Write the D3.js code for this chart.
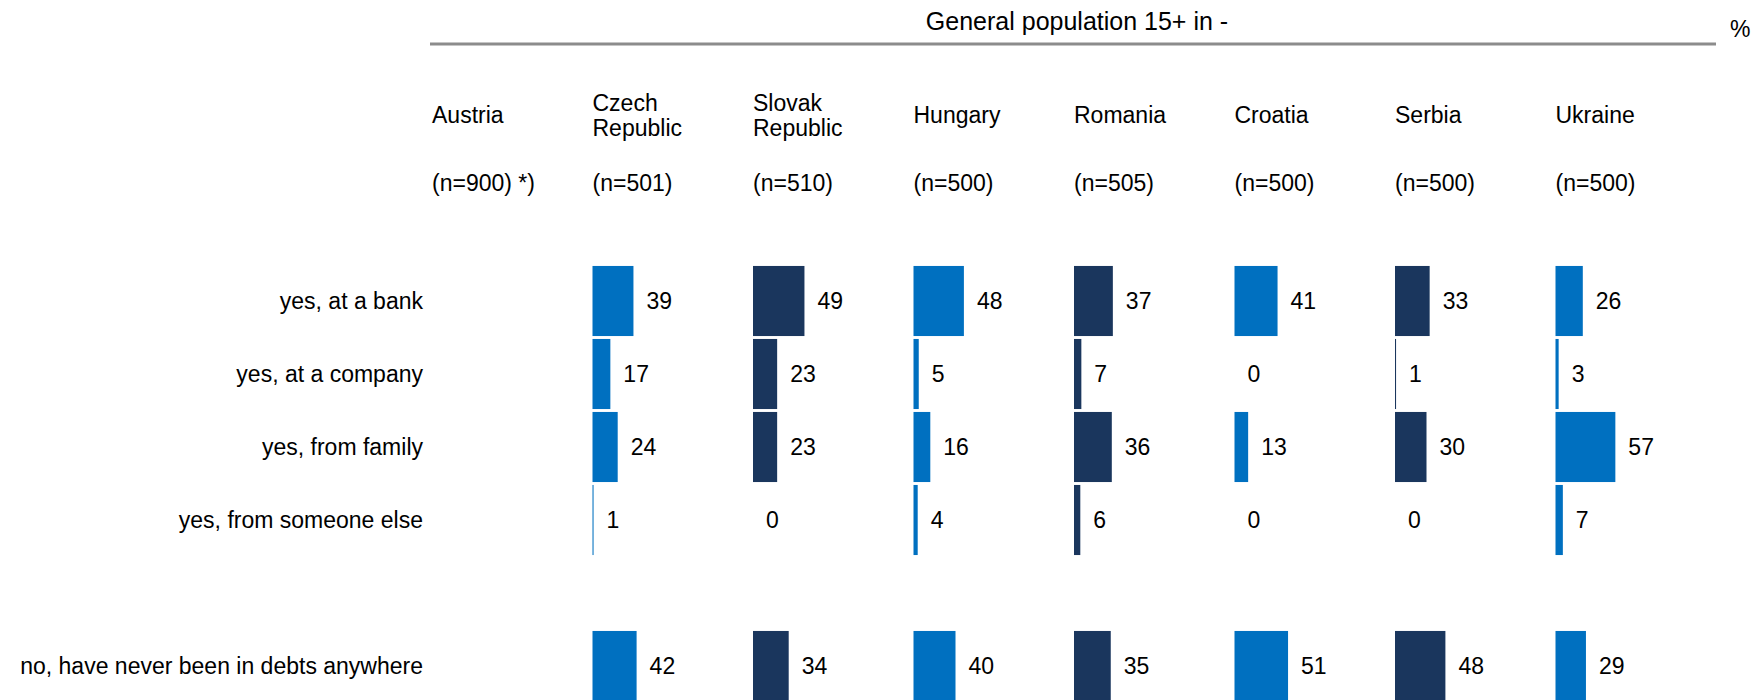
<!DOCTYPE html>
<html>
<head>
<meta charset="utf-8">
<script src="https://cdn.jsdelivr.net/npm/d3@7"></script>
<style>
  html, body { margin: 0; padding: 0; background: #fff; }
  svg { display: block; font-family: "Liberation Sans", Arial, sans-serif; }
</style>
</head>
<body>
<svg id="chart" width="1752" height="700"></svg>
<script>
// Survey: where respondents have been in debt, by country (percent)
const countries = ["Austria", "Czech Republic", "Slovak Republic", "Hungary", "Romania", "Croatia", "Serbia", "Ukraine"];
const countryLines = [["Austria"], ["Czech", "Republic"], ["Slovak", "Republic"], ["Hungary"], ["Romania"], ["Croatia"], ["Serbia"], ["Ukraine"]];
const sampleSizes = ["(n=900) *)", "(n=501)", "(n=510)", "(n=500)", "(n=505)", "(n=500)", "(n=500)", "(n=500)"];

const categories = [
  "yes, at a bank",
  "yes, at a company",
  "yes, from family",
  "yes, from someone else",
  "no, have never been in debts anywhere"
];

// Values per country, in category order (Austria has no bars)
const austria  = null;
const czech    = [39, 17, 24, 1, 42];
const slovak   = [49, 23, 23, 0, 34];
const hungary  = [48, 5, 16, 4, 40];
const romania  = [37, 7, 36, 6, 35];
const croatia  = [41, 0, 13, 0, 51];
const serbia   = [33, 1, 30, 0, 48];
const ukraine  = [26, 3, 57, 7, 29];
const seriesValues = [austria, czech, slovak, hungary, romania, croatia, serbia, ukraine];

const headerTitle = "General population 15+ in -";
const unitLabel = "%";

const colors = ["#1a365d", "#0070c0"];

const svg = d3.select("#chart");
const FONT = 23;

// Column positions
const xCol = d3.scalePoint().domain(countries).range([432, 1555.5]);
// Bar length per percentage point
const xVal = d3.scaleLinear().domain([0, 100]).range([0, 105]);

// Rows: a blank slot separates the "no" row from the "yes" rows
const rowKeys = [categories[0], categories[1], categories[2], categories[3], "__gap__", categories[4]];
const y = d3.scaleBand().domain(rowKeys).range([264.5, 702.5]).paddingInner(0.04).paddingOuter(0.02);

// Header title and rule
svg.append("text")
  .attr("x", 1077).attr("y", 30)
  .attr("text-anchor", "middle")
  .attr("font-size", 25)
  .attr("fill", "#000")
  .text(headerTitle);

svg.append("line")
  .attr("x1", 430).attr("x2", 1716)
  .attr("y1", 44).attr("y2", 44)
  .attr("stroke", "#8c8c8c").attr("stroke-width", 3);

svg.append("text")
  .attr("x", 1730).attr("y", 37)
  .attr("font-size", FONT)
  .attr("fill", "#000")
  .text(unitLabel);

// Column headers
const heads = svg.append("g").selectAll("g.col")
  .data(countries)
  .join("g").attr("class", "col");

heads.each(function(c, i) {
  const g = d3.select(this);
  const lines = countryLines[i];
  const baselines = lines.length === 1 ? [123] : [111, 136];
  lines.forEach((ln, k) => {
    g.append("text")
      .attr("x", xCol(c)).attr("y", baselines[k])
      .attr("font-size", FONT).attr("fill", "#000")
      .text(ln);
  });
  g.append("text")
    .attr("x", xCol(c)).attr("y", 191)
    .attr("font-size", FONT).attr("fill", "#000")
    .text(sampleSizes[i]);
});

// Row labels
svg.append("g").selectAll("text")
  .data(categories)
  .join("text")
  .attr("x", 423)
  .attr("y", d => y(d) + y.bandwidth() / 2 + 8)
  .attr("text-anchor", "end")
  .attr("font-size", FONT).attr("fill", "#000")
  .text(d => d);

// Bars and value labels
const cells = [];
countries.forEach((c, i) => {
  const vals = seriesValues[i];
  if (!vals) return;
  vals.forEach((v, j) => cells.push({ country: c, ci: i, cat: categories[j], value: v }));
});

svg.append("g").selectAll("rect")
  .data(cells.filter(d => d.value > 0))
  .join("rect")
  .attr("x", d => xCol(d.country))
  .attr("y", d => y(d.cat))
  .attr("width", d => xVal(d.value))
  .attr("height", y.bandwidth())
  .attr("fill", d => colors[d.ci % 2]);

svg.append("g").selectAll("text")
  .data(cells)
  .join("text")
  .attr("x", d => xCol(d.country) + xVal(d.value) + 13)
  .attr("y", d => y(d.cat) + y.bandwidth() / 2 + 8)
  .attr("font-size", FONT).attr("fill", "#000")
  .text(d => d.value);
</script>
</body>
</html>
